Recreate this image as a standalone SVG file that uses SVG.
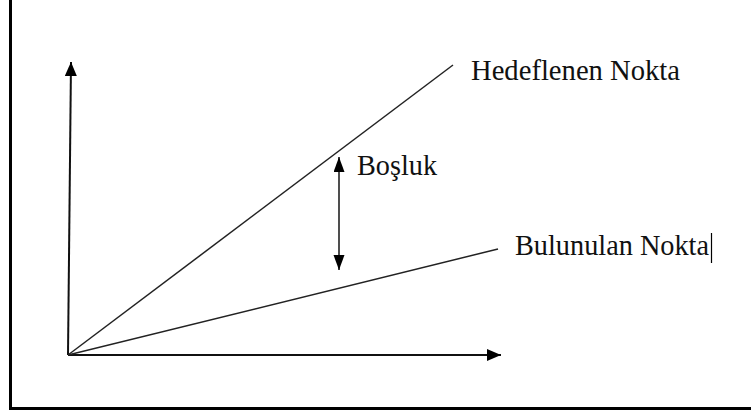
<svg xmlns="http://www.w3.org/2000/svg" width="751" height="412" viewBox="0 0 751 412">
  <style>
    .lbl { font-family: "Liberation Serif", "Times New Roman", serif; font-size: 30px; fill: #111; }
    .axis { stroke: #111; stroke-width: 2; fill: none; }
    .ray { stroke: #222; stroke-width: 1.5; fill: none; }
    .gap { stroke: #222; stroke-width: 1.6; fill: none; }
  </style>
  <defs>
    <marker id="ah" markerUnits="userSpaceOnUse" markerWidth="16" markerHeight="14" refX="14" refY="6" orient="auto-start-reverse" viewBox="0 0 16 14">
      <path d="M0,0 L14,6 L0,12 z" fill="#000"/>
    </marker>
    <marker id="ah2" markerUnits="userSpaceOnUse" markerWidth="16" markerHeight="12" refX="15" refY="5.5" orient="auto-start-reverse" viewBox="0 0 16 12">
      <path d="M0,0 L15,5.5 L0,11 z" fill="#000"/>
    </marker>
  </defs>
  <rect width="751" height="412" fill="#fff"/>
  <g id="frame">
    <line x1="10.5" y1="0" x2="10.5" y2="410" stroke="#000" stroke-width="3"/>
    <line x1="9" y1="408.5" x2="751" y2="408.5" stroke="#000" stroke-width="3"/>
  </g>
  <g id="connectors">
    <line id="y-axis" class="axis" x1="68" y1="355" x2="71" y2="62" marker-end="url(#ah)"/>
    <line id="x-axis" class="axis" x1="68" y1="355" x2="501" y2="355" marker-end="url(#ah)"/>
    <line id="hedef-line" class="ray" x1="68" y1="355" x2="453" y2="65"/>
    <line id="bulunulan-line" class="ray" x1="68" y1="355" x2="498" y2="249"/>
    <line id="gap-arrow" class="gap" x1="339" y1="157" x2="339" y2="270" marker-start="url(#ah2)" marker-end="url(#ah2)"/>
  </g>
  <g id="hedeflenen">
    <text class="lbl" x="471" y="80" textLength="209" lengthAdjust="spacingAndGlyphs">Hedeflenen Nokta</text>
  </g>
  <g id="bosluk">
    <text class="lbl" x="357" y="175" textLength="80" lengthAdjust="spacingAndGlyphs">Boşluk</text>
  </g>
  <g id="bulunulan">
    <text class="lbl" x="515" y="255" textLength="194" lengthAdjust="spacingAndGlyphs">Bulunulan Nokta</text>
    <line x1="711.5" y1="233" x2="711.5" y2="263" stroke="#000" stroke-width="1.2"/>
  </g>
</svg>
